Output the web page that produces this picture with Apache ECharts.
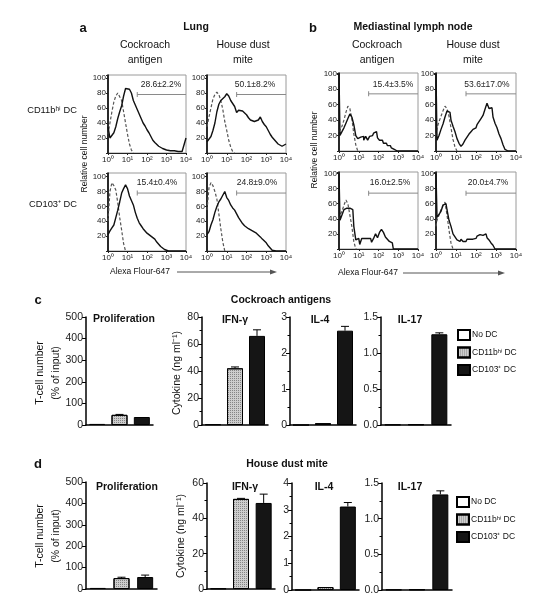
<!DOCTYPE html>
<html><head><meta charset="utf-8">
<script src="https://cdn.jsdelivr.net/npm/echarts@6/dist/echarts.min.js"></script>
<style>html,body{margin:0;padding:0;background:#fff}#c{width:555px;height:600px}</style>
</head><body><div id="c"></div>
<script>
// ---------- data ----------
const BINS = [0,0.1,0.2,0.3,0.4,0.5,0.6,0.7,0.8,0.9,1.0,1.1,1.2,1.3,1.4,1.5,1.6,1.7,1.8,1.9,2.0,2.1,2.2,2.3,2.4,2.5,2.6,2.7,2.8,2.9,3.0,3.1,3.2,3.3,3.4,3.5,3.6,3.7,3.8,3.9,4.0];
const X_TICKS = ['10⁰','10¹','10²','10³','10⁴'];
// panel a (lung)
const LUNG_CA_HI = [35,20,20,27,35,46,55,63,76,86,84,85,80,70,64,58,52,46,40,36,31,27,22,17,14,12,9,7,6,5,4,4,3,3,3,2,2,2,2,4,20];
const LUNG_CA_HI_ISO = [25,40,55,68,76,80,78,70,55,40,25,12,4,0];
const LUNG_HDM_HI = [15,17,22,30,40,55,65,70,72,75,79,76,70,66,62,54,57,58,56,57,51,47,44,43,42,42,44,48,42,38,35,30,25,21,18,15,12,10,9,9,12];
const LUNG_HDM_HI_ISO = [35,48,60,72,78,81,78,70,58,42,30,17,8,2,0];
const LUNG_CA_103 = [22,27,31,35,45,55,66,78,84,89,84,74,68,62,52,44,38,34,30,27,24,22,20,18,16,12,10,6,4,2,1,0,0,0,0,0,0,0,0,0,0];
const LUNG_CA_103_ISO = [40,80,92,88,82,65,45,28,10,0];
const LUNG_HDM_103 = [22,26,35,42,52,60,66,70,75,80,72,68,62,58,55,50,45,41,37,34,32,30,29,27,25,24,22,19,16,14,11,7,4,1,0,0,0,0,0,0,0];
const LUNG_HDM_103_ISO = [55,85,92,88,80,70,50,30,12,0];
// panel b (mediastinal lymph node)
const LN_CA_HI = [100,20,25,30,36,42,48,44,34,20,16,18,19,14,19,14,19,20,23,25,17,14,14,10,10,7,7,4,2,0,0,0,0,0,0,0,0,0,0,0,0];
const LN_CA_HI_ISO = [25,28,32,40,50,58,55,42,22,8,0];
const LN_HDM_HI = [100,14,20,28,35,44,52,50,40,32,25,16,10,6,9,14,18,22,25,28,30,34,38,42,46,54,62,55,56,44,36,30,22,16,8,2,0,0,0,0,0];
const LN_HDM_HI_ISO = [20,30,38,45,52,58,55,45,30,15,5,0];
const LN_CA_103 = [100,38,45,52,54,54,56,52,30,12,14,6,14,14,14,14,14,9,14,20,15,22,26,22,16,13,10,8,0,0,0,0,0,0,0,0,0,0,0,0,0];
const LN_CA_103_ISO = [40,45,50,58,65,60,45,30,10,0];
const LN_HDM_103 = [100,42,46,50,58,60,52,38,30,20,16,12,10,13,10,10,13,13,13,14,14,17,19,18,17,20,15,12,8,5,0,0,0,0,0,0,0,0,0,0,0];
const LN_HDM_103_ISO = [30,38,45,52,58,62,45,25,8,0];
const PCT = ['28.6±2.2%','50.1±8.2%','15.4±0.4%','24.8±9.0%','15.4±3.5%','53.6±17.0%','16.0±2.5%','20.0±4.7%'];
const GATE_START = 1.5;
const GATE_LEVEL_A = 78, GATE_LEVEL_B = 74;
// panels c, d
const CONDS = ['No DC','CD11bʰⁱ DC','CD103⁺ DC'];
const C_PROLIF = [5,47,37], C_PROLIF_ERR = [0,2,0];
const C_IFN = [0.5,42,66], C_IFN_ERR = [0,1,4.5];
const C_IL4 = [0,0.05,2.62], C_IL4_ERR = [0,0,0.12];
const C_IL17 = [0.005,0.01,1.26], C_IL17_ERR = [0,0,0.02];
const D_PROLIF = [5,51,56], D_PROLIF_ERR = [0,4,9];
const D_IFN = [0.3,51,48.7], D_IFN_ERR = [0,0.3,5];
const D_IL4 = [0,0.11,3.12], D_IL4_ERR = [0,0,0.15];
const D_IL17 = [0.005,0.01,1.34], D_IL17_ERR = [0,0,0.05];

// ---------- layout ----------
const FONT = '"Liberation Sans", Arial, sans-serif';
const HISTS = [
  {grid:{left:108,top:75,width:78,height:78}, ymax:104, solid:LUNG_CA_HI, dashed:LUNG_CA_HI_ISO, step:false, gate:GATE_LEVEL_A},
  {grid:{left:207,top:75,width:79,height:78}, ymax:104, solid:LUNG_HDM_HI, dashed:LUNG_HDM_HI_ISO, step:false, gate:GATE_LEVEL_A},
  {grid:{left:108,top:173,width:78,height:78}, ymax:105, solid:LUNG_CA_103, dashed:LUNG_CA_103_ISO, step:false, gate:GATE_LEVEL_A},
  {grid:{left:207,top:173,width:79,height:78}, ymax:105, solid:LUNG_HDM_103, dashed:LUNG_HDM_103_ISO, step:false, gate:GATE_LEVEL_A},
  {grid:{left:339,top:73,width:79,height:78}, ymax:101, solid:LN_CA_HI, dashed:LN_CA_HI_ISO, step:true, gate:GATE_LEVEL_B},
  {grid:{left:436,top:73,width:80,height:78}, ymax:101, solid:LN_HDM_HI, dashed:LN_HDM_HI_ISO, step:true, gate:GATE_LEVEL_B},
  {grid:{left:339,top:172,width:79,height:77}, ymax:102, solid:LN_CA_103, dashed:LN_CA_103_ISO, step:true, gate:GATE_LEVEL_B},
  {grid:{left:436,top:172,width:80,height:77}, ymax:102, solid:LN_HDM_103, dashed:LN_HDM_103_ISO, step:true, gate:GATE_LEVEL_B}
];
const PCT_POS = [[161,85],[255,85],[157,183],[257,183],[393,85],[487,85],[390,183],[488,183]];
const BARS = [
  {grid:{left:86,top:317,width:67,height:108}, vals:C_PROLIF, err:C_PROLIF_ERR, max:500, interval:100, minor:false, fmt:v=>v},
  {grid:{left:202,top:317,width:66,height:108}, vals:C_IFN, err:C_IFN_ERR, max:80, interval:20, minor:true, fmt:v=>v},
  {grid:{left:290,top:317,width:66,height:108}, vals:C_IL4, err:C_IL4_ERR, max:3, interval:1, minor:true, fmt:v=>v},
  {grid:{left:381,top:317,width:70,height:108}, vals:C_IL17, err:C_IL17_ERR, max:1.5, interval:0.5, minor:true, fmt:v=>v.toFixed(1)},
  {grid:{left:86,top:482,width:71,height:107}, vals:D_PROLIF, err:D_PROLIF_ERR, max:500, interval:100, minor:false, fmt:v=>v},
  {grid:{left:207,top:483,width:68,height:106}, vals:D_IFN, err:D_IFN_ERR, max:60, interval:20, minor:true, fmt:v=>v},
  {grid:{left:292,top:483,width:67,height:107}, vals:D_IL4, err:D_IL4_ERR, max:4, interval:1, minor:true, fmt:v=>v},
  {grid:{left:382,top:483,width:70,height:107}, vals:D_IL17, err:D_IL17_ERR, max:1.5, interval:0.5, minor:true, fmt:v=>v.toFixed(1)}
];
const BAR_STYLES = [
  {color:'#ffffff', borderColor:'#000', borderWidth:1},
  {color:'#cdcdcd', borderColor:'#000', borderWidth:1, decal:{symbol:'rect', symbolSize:1, color:'rgba(0,0,0,0.35)', dashArrayX:[1,1], dashArrayY:[1,1], rotation:0}},
  {color:'#151515', borderColor:'#000', borderWidth:1}
];

const grid = [], xAxis = [], yAxis = [], series = [];
HISTS.forEach((h, i) => {
  grid.push(Object.assign({show:true, borderColor:'#9a9a9a', borderWidth:1, containLabel:false}, h.grid));
  xAxis.push({gridIndex:i, type:'value', min:0, max:4, interval:1,
    axisLine:{show:true, onZero:false, lineStyle:{color:'#222', width:1}},
    axisTick:{show:true, length:2, lineStyle:{color:'#222'}},
    axisLabel:{fontSize:8, margin:3, color:'#222', fontFamily:FONT, formatter:v => X_TICKS[Math.round(v)] || ''},
    splitLine:{show:false}});
  yAxis.push({gridIndex:i, type:'value', min:0, max:h.ymax, interval:20,
    axisLine:{show:true, onZero:false, lineStyle:{color:'#000', width:1.6}},
    axisTick:{show:true, length:2, lineStyle:{color:'#222'}},
    axisLabel:{fontSize:8, margin:2, color:'#222', fontFamily:FONT, formatter:v => (v > 0 && v % 20 === 0) ? v : ''},
    splitLine:{show:false}});
  series.push({type:'line', xAxisIndex:i, yAxisIndex:i, data:h.dashed.map((v,k)=>[BINS[k], v]),
    symbol:'none', step:h.step ? 'middle' : false, lineStyle:{color:'#555', width:1.2, type:[3,2]}, z:2, silent:true});
  series.push({type:'line', xAxisIndex:i, yAxisIndex:i, data:h.solid.map((v,k)=>[BINS[k], v]),
    symbol:'none', step:h.step ? 'middle' : false, lineStyle:{color:'#111', width:1.4}, z:3, silent:true});
  series.push({type:'line', xAxisIndex:i, yAxisIndex:i, showSymbol:true,
    data:[{value:[GATE_START, h.gate], symbol:'rect', symbolSize:[1,5]}, {value:[4, h.gate], symbol:'none'}],
    itemStyle:{color:'#8a8a8a'}, lineStyle:{color:'#8a8a8a', width:1}, z:1, silent:true});
});
BARS.forEach((b, j) => {
  const g = HISTS.length + j;
  grid.push(Object.assign({show:false}, b.grid));
  xAxis.push({gridIndex:g, type:'category', data:CONDS,
    axisLine:{show:true, lineStyle:{color:'#000', width:1.5}}, axisTick:{show:false}, axisLabel:{show:false}});
  yAxis.push({gridIndex:g, type:'value', min:0, max:b.max, interval:b.interval,
    axisLine:{show:true, lineStyle:{color:'#000', width:1.5}},
    axisTick:{show:true, length:4, lineStyle:{color:'#000', width:1}},
    minorTick:{show:b.minor, splitNumber:2, length:2.5, lineStyle:{color:'#000'}},
    axisLabel:{fontSize:10.5, margin:3, color:'#222', fontFamily:FONT, formatter:b.fmt},
    splitLine:{show:false}});
  CONDS.forEach((name, ci) => {
    series.push({type:'bar', name, xAxisIndex:g, yAxisIndex:g, barWidth:16, barGap:'-100%',
      data:b.vals.map((v,k)=> k === ci ? v : '-'), itemStyle:BAR_STYLES[ci], z:3, silent:true});
  });
  series.push({type:'custom', xAxisIndex:g, yAxisIndex:g, z:2, silent:true,
    data:b.vals.map((v,k)=>[k, v, v + b.err[k]]).filter((d,k)=>b.err[k] > 0),
    renderItem:(params, api) => {
      const base = api.coord([api.value(0), api.value(1)]);
      const top = api.coord([api.value(0), api.value(2)]);
      return {type:'group', children:[
        {type:'line', shape:{x1:top[0], y1:base[1], x2:top[0], y2:top[1]}, style:{stroke:'#000', lineWidth:1}},
        {type:'line', shape:{x1:top[0]-4, y1:top[1], x2:top[0]+4, y2:top[1]}, style:{stroke:'#000', lineWidth:1}}
      ]};
    }});
});

function txt(text, x, y, o) {
  o = o || {};
  return {type:'text', x, y, rotation:o.rot || 0, z:10,
    style:{text, fill:o.color || '#111', font:(o.bold ? 'bold ' : '') + (o.size || 10.5) + 'px ' + FONT,
      textAlign:o.align || 'center', textVerticalAlign:'middle', align:o.align || 'center', verticalAlign:'middle'}};
}
function arrow(x1, x2, y) {
  return [
    {type:'line', shape:{x1, y1:y, x2, y2:y}, style:{stroke:'#555', lineWidth:1}, z:10},
    {type:'polygon', shape:{points:[[x2-1,y-2.5],[x2+6,y],[x2-1,y+2.5]]}, style:{fill:'#555'}, z:10}
  ];
}
const R = Math.PI / 2;
const graphic = [
  txt('a', 83, 28, {bold:true, size:13}),
  txt('Lung', 196, 27, {bold:true}),
  txt('Cockroach', 145, 45), txt('antigen', 145, 60),
  txt('House dust', 243, 45), txt('mite', 243, 60),
  txt('b', 313, 28, {bold:true, size:13}),
  txt('Mediastinal lymph node', 413, 27, {bold:true}),
  txt('Cockroach', 377, 45), txt('antigen', 377, 60),
  txt('House dust', 473, 45), txt('mite', 473, 60),
  txt('CD11bʰⁱ DC', 77, 110, {align:'right', size:9.3}),
  txt('CD103⁺ DC', 77, 204, {align:'right', size:9.3}),
  txt('Relative cell number', 85, 154, {rot:R, size:8.5}),
  txt('Relative cell number', 315, 150, {rot:R, size:8.5}),
  txt('Alexa Flour-647', 140, 272, {size:8.5}),
  ...arrow(177, 271, 272),
  txt('Alexa Flour-647', 368, 273, {size:8.5}),
  ...arrow(403, 499, 273),
  txt('c', 38, 300, {bold:true, size:13}),
  txt('Cockroach antigens', 281, 300, {bold:true}),
  txt('Proliferation', 93, 319, {bold:true, align:'left'}),
  txt('IFN-γ', 235, 320, {bold:true}),
  txt('IL-4', 320, 320, {bold:true}),
  txt('IL-17', 410, 320, {bold:true}),
  txt('T-cell number', 40, 373, {rot:R}),
  txt('(% of input)', 56, 373, {rot:R}),
  txt('Cytokine (ng ml⁻¹)', 177, 373, {rot:R}),
  txt('d', 38, 464, {bold:true, size:13}),
  txt('House dust mite', 287, 464, {bold:true}),
  txt('Proliferation', 96, 487, {bold:true, align:'left'}),
  txt('IFN-γ', 245, 487, {bold:true}),
  txt('IL-4', 324, 487, {bold:true}),
  txt('IL-17', 410, 487, {bold:true}),
  txt('T-cell number', 40, 536, {rot:R}),
  txt('(% of input)', 56, 536, {rot:R}),
  txt('Cytokine (ng ml⁻¹)', 181, 536, {rot:R})
];
PCT.forEach((p, i) => graphic.push(txt(p, PCT_POS[i][0], PCT_POS[i][1], {size:8.5, color:'#222'})));

const legendBase = {orient:'vertical', itemWidth:12, itemHeight:10, itemGap:5.5, padding:0, data:CONDS, selectedMode:false,
  icon:'rect', textStyle:{fontSize:8.5, color:'#111', fontFamily:FONT, padding:[0,0,0,-3]}};
const chart = echarts.init(document.getElementById('c'), null, {renderer:'canvas'});
chart.setOption({
  animation:false,
  backgroundColor:'#fff',
  textStyle:{fontFamily:FONT},
  grid, xAxis, yAxis, series, graphic,
  legend:[Object.assign({left:457, top:329}, legendBase), Object.assign({left:456, top:496}, legendBase)]
});
</script></body></html>
